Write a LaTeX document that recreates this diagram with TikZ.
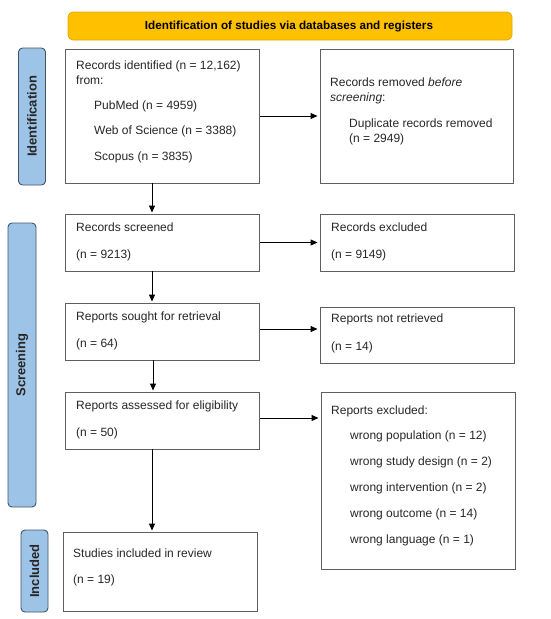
\documentclass[tikz,border=0pt]{standalone}
\usepackage{fontspec}
\setmainfont{Liberation Sans}
\usetikzlibrary{arrows.meta}
\definecolor{hdrfill}{HTML}{FFC000}
\definecolor{hdrline}{HTML}{E0A800}
\definecolor{sidefill}{HTML}{9DC3E6}
\definecolor{sideline}{HTML}{44546A}
\definecolor{boxline}{HTML}{5F5F5F}
\tikzset{
  box/.style={draw=boxline, line width=0.9pt, rectangle, inner sep=0pt},
  side/.style={draw=sideline, fill=sidefill, line width=0.9pt, rounded corners=4pt, inner sep=0pt},
  sidetxt/.style={rotate=90, font=\fontsize{13}{15}\selectfont\bfseries, text=black!85},
  hdr/.style={draw=hdrline, fill=hdrfill, line width=0.8pt, rounded corners=5pt, inner sep=0pt},
  txt/.style={anchor=west, inner sep=0pt, font=\fontsize{12}{14}\selectfont, text=black!85, text height=8.6pt, text depth=2.4pt},
  arr/.style={-{Triangle[length=7pt,width=6pt]}, line width=0.9pt, black},
}
\begin{document}
\begin{tikzpicture}[x=1pt,y=-1pt]
\useasboundingbox (0,0) rectangle (550,619);
% header
\node[hdr, minimum width=444pt, minimum height=28pt] (hdr) at (290,26) {};
\node[inner sep=0pt, font=\fontsize{11.7}{14}\selectfont\bfseries] (hdrt) at (289,26.5) {Identification of studies via databases and registers};
% side labels
\node[side, minimum width=27pt, minimum height=137pt] (s1) at (32,116.5) {};
\node[sidetxt] (s1t) at (32,116.5) {Identification};
\node[side, minimum width=28pt, minimum height=284pt] (s2) at (22,365) {};
\node[sidetxt] (s2t) at (22,365) {Screening};
\node[side, minimum width=27pt, minimum height=82pt] (s3) at (34.5,571) {};
\node[sidetxt] (s3t) at (34.5,571) {Included};
% boxes
\node[box, minimum width=194pt, minimum height=134pt] (A) at (162,116) {};
\node[box, minimum width=193pt, minimum height=134pt] (B) at (416.5,116) {};
\node[box, minimum width=194pt, minimum height=57pt] (C) at (162,242.5) {};
\node[box, minimum width=194pt, minimum height=57pt] (D) at (417,242.5) {};
\node[box, minimum width=194pt, minimum height=57pt] (E) at (162,331.5) {};
\node[box, minimum width=194pt, minimum height=56pt] (F) at (417,335) {};
\node[box, minimum width=194pt, minimum height=57pt] (G) at (162,420.5) {};
\node[box, minimum width=194pt, minimum height=177pt] (H) at (418,480.5) {};
\node[box, minimum width=194pt, minimum height=79pt] (I) at (160,571.5) {};
% texts
\node[txt] (a1) at (76,66) {Records identified (n = 12,162)};
\node[txt] (a2) at (76,81) {from:};
\node[txt] (a3) at (94,106) {PubMed (n = 4959)};
\node[txt] (a4) at (94,131) {Web of Science (n = 3388)};
\node[txt] (a5) at (94,157) {Scopus (n = 3835)};
\node[txt] (b1) at (330,83) {Records removed \textit{before}};
\node[txt] (b2) at (330,98) {\textit{screening}:};
\node[txt] (b3) at (349,124) {Duplicate records removed};
\node[txt] (b4) at (349,139) {(n = 2949)};
\node[txt] (c1) at (76,228) {Records screened};
\node[txt] (c2) at (76,255) {(n = 9213)};
\node[txt] (d1) at (331,228) {Records excluded};
\node[txt] (d2) at (331,255) {(n = 9149)};
\node[txt] (e1) at (76,317) {Reports sought for retrieval};
\node[txt] (e2) at (76,344) {(n = 64)};
\node[txt] (f1) at (331,319) {Reports not retrieved};
\node[txt] (f2) at (331,347) {(n = 14)};
\node[txt] (g1) at (76,406) {Reports assessed for eligibility};
\node[txt] (g2) at (76,433) {(n = 50)};
\node[txt] (h1) at (331,411) {Reports excluded:};
\node[txt] (h2) at (350,436) {wrong population (n = 12)};
\node[txt] (h3) at (350,462) {wrong study design (n = 2)};
\node[txt] (h4) at (350,488) {wrong intervention (n = 2)};
\node[txt] (h5) at (350,514) {wrong outcome (n = 14)};
\node[txt] (h6) at (350,540) {wrong language (n = 1)};
\node[txt] (i1) at (73,554) {Studies included in review};
\node[txt] (i2) at (73,580) {(n = 19)};
% arrows
\draw[arr, shorten <=1pt, shorten >=2pt] (A.east) -- (A.east -| B.west);
\draw[arr, shorten <=1pt, shorten >=2pt] (C.east) -- (C.east -| D.west);
\draw[arr, shorten <=1pt, shorten >=2pt] ([yshift=2.5pt]E.east) -- ([yshift=2.5pt]E.east -| F.west);
\draw[arr, shorten <=1pt, shorten >=2pt] ([yshift=2.5pt]G.east) -- ([yshift=2.5pt]G.east -| H.west);
\draw[arr, shorten >=1pt] ([xshift=-10pt]A.south) -- ([xshift=-10pt]C.north);
\draw[arr, shorten >=1pt] ([xshift=-10pt]C.south) -- ([xshift=-10pt]E.north);
\draw[arr, shorten >=1pt] ([xshift=-9pt]E.south) -- ([xshift=-9pt]G.north);
\draw[arr, shorten >=1pt] ([xshift=-10pt]G.south) -- ([xshift=-10pt]G.south |- I.north);
\end{tikzpicture}
\end{document}
